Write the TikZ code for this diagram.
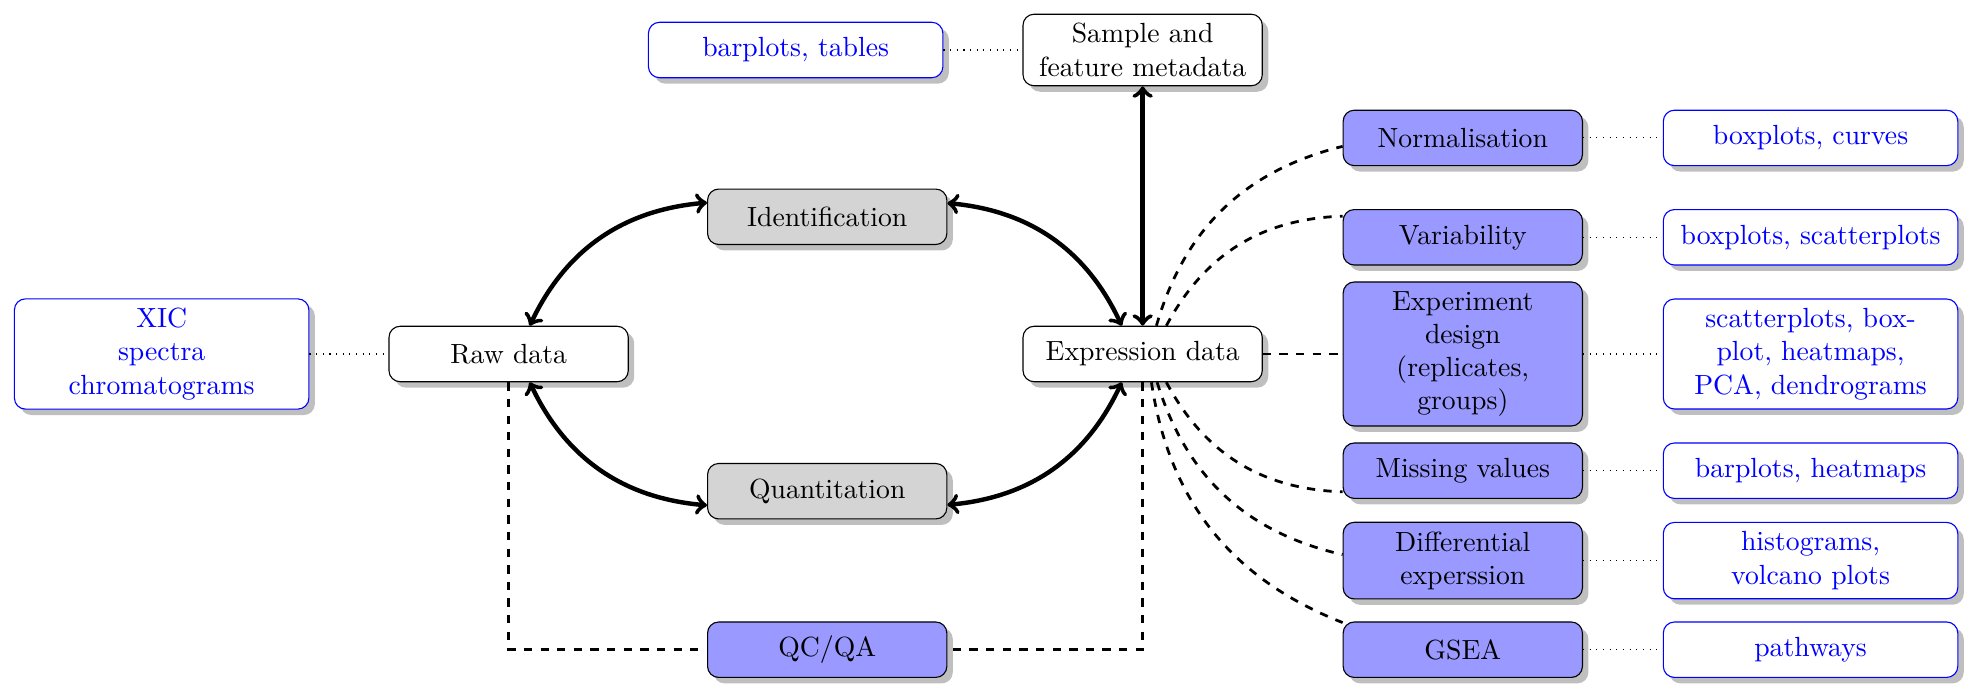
\documentclass[tikz,border=0pt]{standalone}
\usetikzlibrary{shadows}

\tikzset{
  box/.style={draw, rounded corners, drop shadow, fill=white,
    text width=2.8cm, align=center, minimum height=2em},
  datanode/.style={box},
  idnode/.style={box, fill=black!17},
  analysis/.style={box, fill=blue!40},
  plots/.style={box, draw=blue, text=blue, text width=3.5cm},
  biarrow/.style={<->, ultra thick},
  dashedlink/.style={dashed, line width=1pt},
  dottedlink/.style={dotted}
}

\begin{document}
\begin{tikzpicture}

    \useasboundingbox (0,-4.197) rectangle (25.02,4.489);

    \node[datanode] (raw) at (6.45,0) {Raw data};
    \node[datanode] (expr) at (14.49,0) {Expression data};
    \node[datanode] (sample) at (14.49,3.855) {Sample and\\feature metadata};

    \node[idnode] (ident) at (10.49,1.74) {Identification};
    \node[idnode] (quant) at (10.49,-1.74) {Quantitation};
    \node[analysis] (qc) at (10.49,-3.75) {QC/QA};

    \node[analysis] (norm) at (18.55,2.74) {Normalisation};
    \node[analysis] (var) at (18.55,1.48) {Variability};
    \node[analysis] (design) at (18.55,0) {Experiment\\design\\(replicates,\\groups)};
    \node[analysis] (miss) at (18.55,-1.48) {Missing values};
    \node[analysis] (diffexp) at (18.55,-2.62) {Differential\\experssion};
    \node[analysis] (gsea) at (18.55,-3.75) {GSEA};

    \node[plots] (xic) at (2.05,0) {XIC\\spectra\\chromatograms};
    \node[plots] (tables) at (10.09,3.855) {barplots, tables};
    \node[plots] (boxcurves) at (22.96,2.74) {boxplots, curves};
    \node[plots] (boxscatter) at (22.96,1.48) {boxplots, scatterplots};
    \node[plots] (heatpca) at (22.96,0) {scatterplots, box-\\plot, heatmaps,\\PCA, dendrograms};
    \node[plots] (barheat) at (22.96,-1.48) {barplots, heatmaps};
    \node[plots] (volcano) at (22.96,-2.62) {histograms,\\volcano plots};
    \node[plots] (pathways) at (22.96,-3.75) {pathways};

    \draw[biarrow] (raw) to[bend left] (ident);
    \draw[biarrow] (ident) to[bend left] (expr);
    \draw[biarrow] (expr) to[bend left] (quant);
    \draw[biarrow] (quant) to[bend left] (raw);
    \draw[biarrow] (expr) -- (sample);

    \draw[dashedlink] (raw) |- (qc);
    \draw[dashedlink] (expr) |- (qc);

    \draw[dashedlink] (expr) to[bend left] (norm);
    \draw[dashedlink] (expr) to[bend left] (var);
    \draw[dashedlink] (expr) -- (design);
    \draw[dashedlink] (expr) to[bend right] (miss);
    \draw[dashedlink] (expr) to[bend right] (diffexp);
    \draw[dashedlink] (expr) to[bend right] (gsea);

    \draw[dottedlink] (xic) -- (raw);
    \draw[dottedlink] (tables) -- (sample);
    \draw[dottedlink] (norm) -- (boxcurves);
    \draw[dottedlink] (var) -- (boxscatter);
    \draw[dottedlink] (design) -- (heatpca);
    \draw[dottedlink] (miss) -- (barheat);
    \draw[dottedlink] (diffexp) -- (volcano);
    \draw[dottedlink] (gsea) -- (pathways);

\end{tikzpicture}
\end{document}
